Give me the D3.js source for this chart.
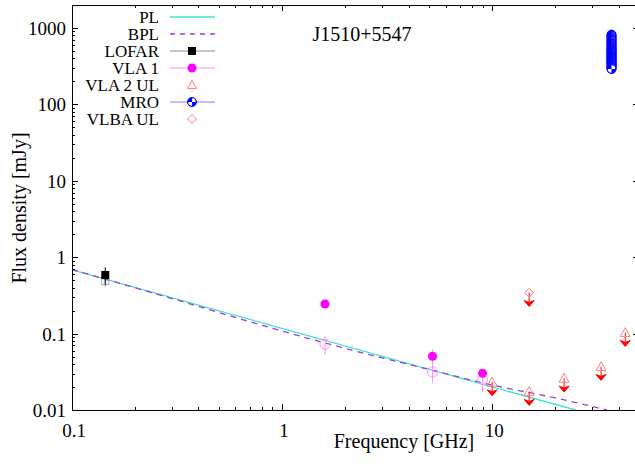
<!DOCTYPE html>
<html><head><meta charset="utf-8">
<script src="https://cdn.jsdelivr.net/npm/d3@7"></script>
<style>
body{margin:0;background:#fff}
svg{display:block}
text{font-family:"Liberation Serif","Times New Roman",serif;fill:#000}
</style>
</head><body>
<svg id="c" width="635" height="464"></svg>
<script>
// ---------- data ----------
const titleText = "J1510+5547";
const xTickValues = [0.1, 1, 10];
const yTickValues = [0.01, 0.1, 1, 10, 100, 1000];
const legendLabels = ["PL", "BPL", "LOFAR", "VLA 1", "VLA 2 UL", "MRO", "VLBA UL"];

// model curves
const plFreq = [0.1, 24.9];
const plFlux = [0.681, 0.01];
const bplFreq = [0.1, 0.3, 1, 2, 5.2, 10, 20, 35.2];
const bplFlux = [0.69, 0.287, 0.108, 0.064, 0.0331, 0.0212, 0.0144, 0.01];

// LOFAR
const lofarFreq = [0.144];
const lofarFlux = [0.585];
const lofarErr = [0.15];
const lofarAltFlux = [0.487];
const lofarAltErr = [0.08];

// VLA 1 (filled) and its open companions
const vla1Freq = [1.6, 5.2, 9.0];
const vla1Flux = [0.244, 0.0505, 0.0302];
const vla1Err = [0.02, 0.012, 0.004];
const vla1AltFlux = [0.0724, 0.0314, 0.0252];
const vla1AltErr = [0.02, 0.009, 0.008];

// VLA 2 upper limits
const vla2Freq = [10, 15, 22, 33, 43];
const vla2Flux = [0.0232, 0.0174, 0.026, 0.0369, 0.103];

// VLBA upper limit
const vlbaFreq = [15];
const vlbaFlux = [0.343];

// MRO (37 GHz monitoring)
const mroFreq = 37;
const mroFlux = [820, 790, 760, 730, 700, 680, 650, 630, 610, 590, 570, 555, 540, 525, 510, 495, 480, 470, 455, 445, 430, 420, 410, 400, 390, 380, 370, 360, 350, 340, 330, 320, 310, 300, 290];
const mroErrFrac = 0.12;

const ulFactor = 0.66; // arrow tip as fraction of the limit value

// ---------- layout ----------
const pL = 72, pR = 639, pT = 5, pB = 410;
const svg = d3.select("#c");

const x = d3.scaleLog().domain([0.1, 50]).range([pL, pR]);
const y = d3.scaleLog().domain([0.01, 2000]).range([pB, pT]);

const cCyan = "#40e0d0", cPurple = "#9a3fe0", cMag = "#ff00ff", cMagL = "#ff90ff",
      cRedL = "#ff8080", cRed = "#ff0000", cBlue = "#0000ff", cBlueL = "#8080ff";

svg.append("defs").append("clipPath").attr("id", "clip")
  .append("rect").attr("x", pL).attr("y", pT).attr("width", pR - pL).attr("height", pB - pT);

const plot = svg.append("g").attr("clip-path", "url(#clip)");

// ---------- ticks ----------
function minorTicks(dom) {
  const out = [];
  const lo = Math.floor(Math.log10(dom[0])), hi = Math.ceil(Math.log10(dom[1]));
  for (let e = lo; e <= hi; e++) for (let m = 1; m <= 9; m++) {
    const v = m * Math.pow(10, e);
    if (v >= dom[0] * 0.999 && v <= dom[1] * 1.001) out.push({v, major: m === 1});
  }
  return out;
}
const tickG = svg.append("g").attr("stroke", "#000").attr("stroke-width", 1);
minorTicks(x.domain()).forEach(t => {
  const L = t.major ? 6 : 3, xx = Math.round(x(t.v)) + 0.5;
  tickG.append("line").attr("x1", xx).attr("x2", xx).attr("y1", pB).attr("y2", pB - L);
  tickG.append("line").attr("x1", xx).attr("x2", xx).attr("y1", pT).attr("y2", pT + L);
});
minorTicks(y.domain()).forEach(t => {
  const L = t.major ? 6 : 3, yy = Math.round(y(t.v)) + 0.5;
  tickG.append("line").attr("x1", pL).attr("x2", pL + L).attr("y1", yy).attr("y2", yy);
  tickG.append("line").attr("x1", pR).attr("x2", pR - L).attr("y1", yy).attr("y2", yy);
});

// tick labels
const fmt = v => (v >= 1 ? d3.format("d")(v) : String(v));
svg.append("g").selectAll("text").data(xTickValues).join("text")
  .attr("x", d => x(d) + 2).attr("y", pB + 27).attr("text-anchor", "middle")
  .attr("font-size", 19).text(fmt);
svg.append("g").selectAll("text").data(yTickValues).join("text")
  .attr("x", pL - 6).attr("y", d => y(d) + 7).attr("text-anchor", "end")
  .attr("font-size", 19).text(fmt);

// axis labels & title
svg.append("text").attr("x", 404).attr("y", 448).attr("text-anchor", "middle")
  .attr("font-size", 20).text("Frequency [GHz]");
svg.append("text").attr("transform", "translate(26,208) rotate(-90)").attr("text-anchor", "middle")
  .attr("font-size", 20).text("Flux density [mJy]");
svg.append("text").attr("x", 362).attr("y", 41).attr("text-anchor", "middle")
  .attr("font-size", 20).text(titleText);

// ---------- model lines ----------
plot.append("path").datum(d3.zip(plFreq, plFlux))
  .attr("d", d3.line().x(d => x(d[0])).y(d => y(d[1])))
  .attr("fill", "none").attr("stroke", cCyan).attr("stroke-width", 1.3);
plot.append("path").datum(d3.zip(bplFreq, bplFlux))
  .attr("d", d3.line().x(d => x(d[0])).y(d => y(d[1])).curve(d3.curveMonotoneX))
  .attr("fill", "none").attr("stroke", cPurple).attr("stroke-width", 1.3).attr("stroke-dasharray", "6,5");

// ---------- helpers ----------
function errBar(g, f, v, e, color) {
  g.append("line").attr("x1", x(f)).attr("x2", x(f)).attr("y1", y(v + e)).attr("y2", y(Math.max(v - e, 1e-4)))
    .attr("stroke", color).attr("stroke-width", 1);
}
function mroSymbol(g, cx, cy, r) {
  g.append("circle").attr("cx", cx).attr("cy", cy).attr("r", r).attr("fill", cBlue).attr("stroke", cBlue).attr("stroke-width", 1);
  const arc = d3.arc().innerRadius(0).outerRadius(r - 0.8);
  g.append("path").attr("transform", `translate(${cx},${cy})`)
    .attr("d", arc({startAngle: 0, endAngle: Math.PI / 2})).attr("fill", "#fff");
  g.append("path").attr("transform", `translate(${cx},${cy})`)
    .attr("d", arc({startAngle: Math.PI, endAngle: 1.5 * Math.PI})).attr("fill", "#fff");
}
function triangle(g, cx, cy, s, color) {
  g.append("path").attr("d", `M${cx},${cy - s}L${cx + s},${cy + s * 0.8}L${cx - s},${cy + s * 0.8}Z`)
    .attr("fill", "none").attr("stroke", color).attr("stroke-width", 1);
}
function diamond(g, cx, cy, s, color) {
  g.append("path").attr("d", `M${cx},${cy - s}L${cx + s},${cy}L${cx},${cy + s}L${cx - s},${cy}Z`)
    .attr("fill", "none").attr("stroke", color).attr("stroke-width", 1);
}
function ulArrow(g, f, v) {
  const xx = x(f), y0 = y(v), y1 = y(v * ulFactor);
  g.append("line").attr("x1", xx).attr("x2", xx).attr("y1", y0).attr("y2", y1 - 2)
    .attr("stroke", cRed).attr("stroke-width", 1);
  g.append("path").attr("d", `M${xx},${y1}L${xx + 5},${y1 - 6}L${xx},${y1 - 4}L${xx - 5},${y1 - 6}Z`)
    .attr("fill", cRed).attr("stroke", cRed).attr("stroke-width", 1);
}

// ---------- LOFAR ----------
lofarFreq.forEach((f, i) => {
  errBar(plot, f, lofarAltFlux[i], lofarAltErr[i], "#999");
  plot.append("rect").attr("x", x(f) - 3.5).attr("y", y(lofarAltFlux[i]) - 3.5).attr("width", 7).attr("height", 7)
    .attr("fill", "none").attr("stroke", "#aaa");
  errBar(plot, f, lofarFlux[i], lofarErr[i], "#000");
  plot.append("rect").attr("x", x(f) - 4).attr("y", y(lofarFlux[i]) - 4).attr("width", 8).attr("height", 8).attr("fill", "#000");
});

// ---------- VLA 1 ----------
vla1Freq.forEach((f, i) => {
  errBar(plot, f, vla1AltFlux[i], vla1AltErr[i], cMagL);
  plot.append("circle").attr("cx", x(f)).attr("cy", y(vla1AltFlux[i])).attr("r", 5)
    .attr("fill", "none").attr("stroke", cMagL);
  errBar(plot, f, vla1Flux[i], vla1Err[i], cMagL);
  plot.append("circle").attr("cx", x(f)).attr("cy", y(vla1Flux[i])).attr("r", 4.5).attr("fill", cMag);
});

// ---------- VLA 2 UL ----------
vla2Freq.forEach((f, i) => {
  ulArrow(plot, f, vla2Flux[i]);
  triangle(plot, x(f), y(vla2Flux[i]), 5, cRedL);
});

// ---------- VLBA UL ----------
vlbaFreq.forEach((f, i) => {
  ulArrow(plot, f, vlbaFlux[i]);
  diamond(plot, x(f), y(vlbaFlux[i]), 4.5, cRedL);
});

// ---------- MRO ----------
mroFlux.forEach(v => errBar(plot, mroFreq, v, v * mroErrFrac, cBlueL));
mroFlux.forEach(v => mroSymbol(plot, x(mroFreq), y(v), 4.5));

// ---------- frame ----------
svg.append("rect").attr("x", pL + 0.5).attr("y", pT + 0.5).attr("width", pR - pL).attr("height", pB - pT)
  .attr("fill", "none").attr("stroke", "#000").attr("stroke-width", 1);

// ---------- legend ----------
const lg = svg.append("g");
const lx0 = 170, lx1 = 215, lxm = 192, ltx = 159;
legendLabels.forEach((lab, i) => {
  const ry = 17 + i * 17;
  lg.append("text").attr("x", ltx).attr("y", ry + 6).attr("text-anchor", "end").attr("font-size", 17).text(lab);
  if (i === 0) lg.append("line").attr("x1", lx0).attr("x2", lx1).attr("y1", ry).attr("y2", ry).attr("stroke", cCyan).attr("stroke-width", 1.3);
  if (i === 1) lg.append("line").attr("x1", lx0).attr("x2", lx1).attr("y1", ry).attr("y2", ry).attr("stroke", cPurple).attr("stroke-width", 1.3).attr("stroke-dasharray", "5,5");
  if (i === 2) {
    lg.append("line").attr("x1", lx0).attr("x2", lx1).attr("y1", ry).attr("y2", ry).attr("stroke", "#888");
    lg.append("rect").attr("x", lxm - 4).attr("y", ry - 4).attr("width", 8).attr("height", 8).attr("fill", "#000");
  }
  if (i === 3) {
    lg.append("line").attr("x1", lx0).attr("x2", lx1).attr("y1", ry).attr("y2", ry).attr("stroke", cMagL);
    lg.append("circle").attr("cx", lxm).attr("cy", ry).attr("r", 4.5).attr("fill", cMag);
  }
  if (i === 4) triangle(lg, lxm, ry, 4.5, cRedL);
  if (i === 5) {
    lg.append("line").attr("x1", lx0).attr("x2", lx1).attr("y1", ry).attr("y2", ry).attr("stroke", cBlueL);
    mroSymbol(lg, lxm, ry, 4.5);
  }
  if (i === 6) diamond(lg, lxm, ry, 4.5, cRedL);
});
</script>
</body></html>
